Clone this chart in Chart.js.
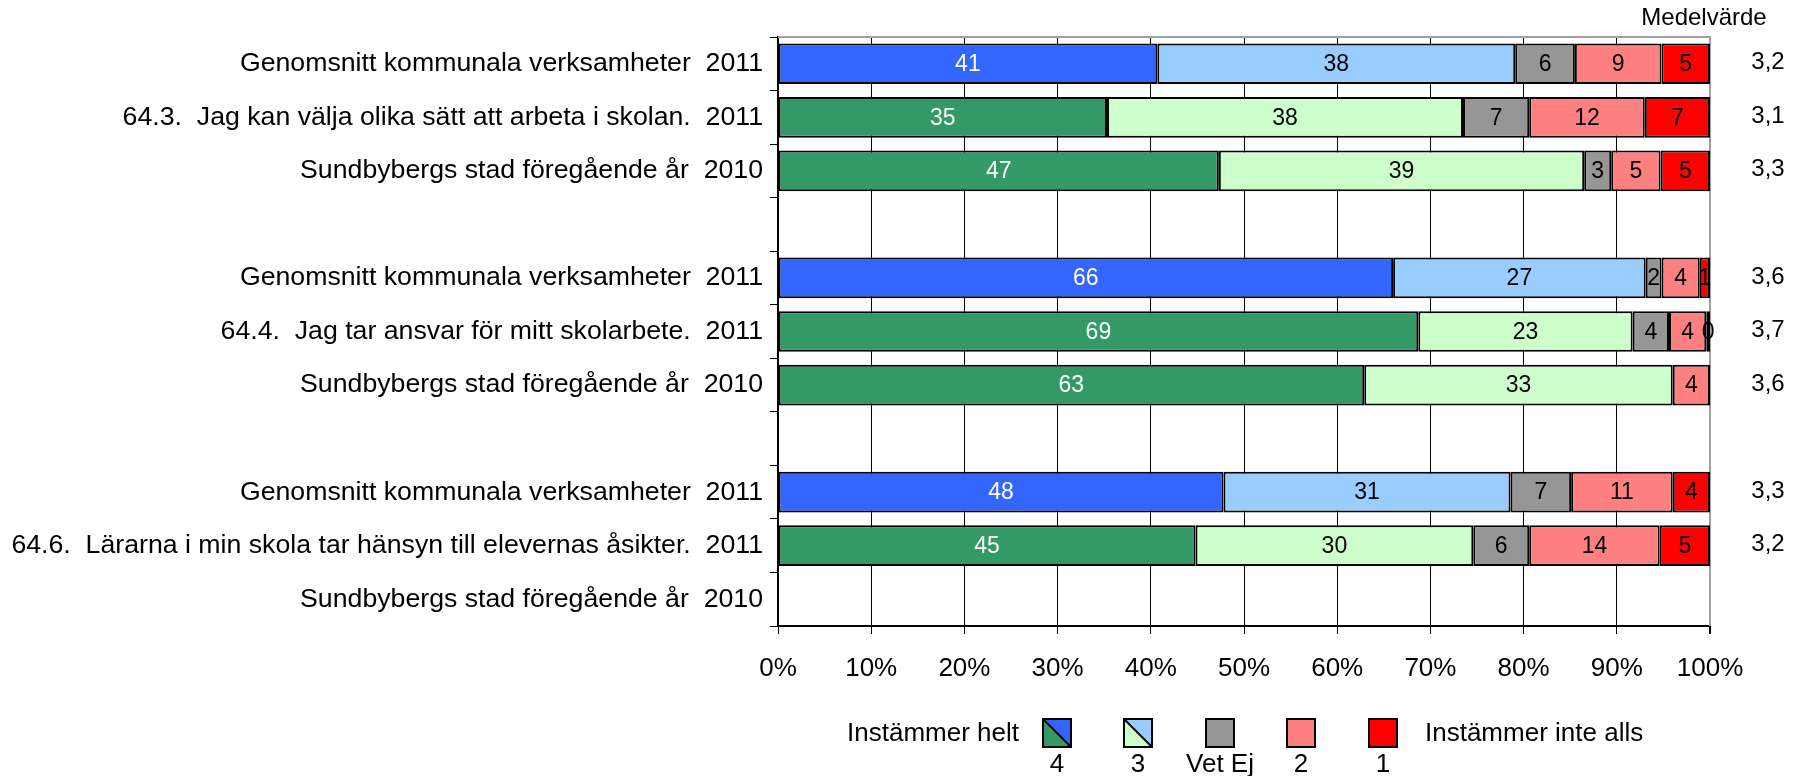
<!DOCTYPE html>
<html>
<head>
<meta charset="utf-8">
<script src="https://cdn.jsdelivr.net/npm/chart.js@4.4.0/dist/chart.umd.min.js"></script>
<style>
  body { margin: 0; background: #fff; }
  #wrap { width: 1806px; height: 776px; }
</style>
</head>
<body>
<div id="wrap"><canvas id="enkat" width="1806" height="776"></canvas></div>
<script>
// rader i diagrammet (tomma rader = mellanrum)
const labels = [
  'Genomsnitt kommunala verksamheter  2011',
  '64.3.  Jag kan välja olika sätt att arbeta i skolan.  2011',
  'Sundbybergs stad föregående år  2010',
  '',
  'Genomsnitt kommunala verksamheter  2011',
  '64.4.  Jag tar ansvar för mitt skolarbete.  2011',
  'Sundbybergs stad föregående år  2010',
  '',
  'Genomsnitt kommunala verksamheter  2011',
  '64.6.  Lärarna i min skola tar hänsyn till elevernas åsikter.  2011',
  'Sundbybergs stad föregående år  2010'
];

// andel (%) per svarsalternativ
const svar4    = [40.7, 35.3, 47.3, null, 66.0, 68.7, 62.9, null, 47.8, 44.8, null];
const svar3    = [38.4, 38.2, 39.2, null, 27.1, 23.0, 33.1, null, 30.8, 29.8, null];
const svarVetEj = [6.4, 7.1, 2.9, null, 1.7, 3.9, null, null, 6.5, 6.0, null];
const svar2    = [9.3, 12.4, 5.3, null, 4.1, 4.0, 4.0, null, 10.9, 14.0, null];
const svar1    = [5.2, 7.0, 5.3, null, 1.1, 0.4, null, null, 4.0, 5.4, null];

const medelvarde = [3.2, 3.1, 3.3, null, 3.6, 3.7, 3.6, null, 3.3, 3.2, null];

const xTicks = [0, 10, 20, 30, 40, 50, 60, 70, 80, 90, 100];

const FONT = '"Liberation Sans", Arial, sans-serif';

function isAvg(i) { return labels[i].startsWith('Genomsnitt'); }

// siffror i staplarna
const barLabels = {
  id: 'barLabels',
  afterDatasetsDraw(chart) {
    const ctx = chart.ctx;
    ctx.save();
    ctx.font = '23px ' + FONT;
    ctx.textAlign = 'center';
    ctx.textBaseline = 'middle';
    chart.data.datasets.forEach((ds, di) => {
      chart.getDatasetMeta(di).data.forEach((bar, i) => {
        const v = ds.data[i];
        if (v === null || v === undefined) return;
        const p = bar.getProps(['x', 'y', 'base'], true);
        ctx.fillStyle = di === 0 ? '#fff' : '#000';
        ctx.fillText(Math.round(v), (p.x + p.base) / 2, p.y + 1);
      });
    });
    ctx.restore();
  }
};

// ram, medelvärde och förklaring
const extras = {
  id: 'extras',
  beforeDatasetsDraw(chart) {
    const a = chart.chartArea, ctx = chart.ctx;
    ctx.save();
    ctx.strokeStyle = '#a0a0a0';
    ctx.lineWidth = 2;
    ctx.beginPath();
    ctx.moveTo(a.left, a.top);
    ctx.lineTo(a.right, a.top);
    ctx.lineTo(a.right, a.bottom);
    ctx.stroke();
    ctx.restore();
  },
  afterDraw(chart) {
    const ctx = chart.ctx;
    const y = chart.scales.y;
    ctx.save();
    ctx.fillStyle = '#000';
    ctx.textBaseline = 'middle';
    ctx.textAlign = 'center';
    ctx.font = '24px ' + FONT;
    ctx.fillText('Medelvärde', 1704, 18);
    medelvarde.forEach((m, i) => {
      if (m === null) return;
      ctx.fillText(m.toFixed(1).replace('.', ','), 1768, y.getPixelForValue(i) - 1);
    });

    // förklaring
    ctx.font = '26px ' + FONT;
    ctx.textAlign = 'right';
    ctx.fillText('Instämmer helt', 1019, 734);
    ctx.textAlign = 'left';
    ctx.fillText('Instämmer inte alls', 1425, 734);

    const items = [
      { text: '4', a: '#3366ff', b: '#339966' },
      { text: '3', a: '#99ccff', b: '#ccffcc' },
      { text: 'Vet Ej', a: '#969696' },
      { text: '2', a: '#ff8080' },
      { text: '1', a: '#ff0000' }
    ];
    const bx = [1043, 1124, 1206, 1287, 1369];
    const by = 719, bs = 28;
    items.forEach((it, k) => {
      const x = bx[k];
      ctx.fillStyle = it.a;
      ctx.fillRect(x, by, bs, bs);
      if (it.b) {
        ctx.fillStyle = it.b;
        ctx.beginPath();
        ctx.moveTo(x, by);
        ctx.lineTo(x + bs, by + bs);
        ctx.lineTo(x, by + bs);
        ctx.closePath();
        ctx.fill();
        ctx.strokeStyle = '#000';
        ctx.lineWidth = 2;
        ctx.beginPath();
        ctx.moveTo(x, by);
        ctx.lineTo(x + bs, by + bs);
        ctx.stroke();
      }
      ctx.strokeStyle = '#000';
      ctx.lineWidth = 2;
      ctx.strokeRect(x, by, bs, bs);
      ctx.fillStyle = '#000';
      ctx.textAlign = 'center';
      ctx.fillText(it.text, x + bs / 2, 765);
    });
    ctx.restore();
  }
};

const ctx = document.getElementById('enkat').getContext('2d');
const myChart = new Chart(ctx, {
  type: 'bar',
  data: {
    labels: labels,
    datasets: [
      { label: '4', data: svar4,
        backgroundColor: c => isAvg(c.dataIndex) ? '#3366ff' : '#339966' },
      { label: '3', data: svar3,
        backgroundColor: c => isAvg(c.dataIndex) ? '#99ccff' : '#ccffcc' },
      { label: 'Vet Ej', data: svarVetEj, backgroundColor: '#969696' },
      { label: '2', data: svar2, backgroundColor: '#ff8080' },
      { label: '1', data: svar1, backgroundColor: '#ff0000' }
    ].map(ds => Object.assign(ds, {
      borderColor: '#000',
      borderWidth: 2,
      borderSkipped: false,
      categoryPercentage: 1,
      barPercentage: 0.76
    }))
  },
  options: {
    indexAxis: 'y',
    responsive: false,
    animation: false,
    devicePixelRatio: 1,
    layout: { padding: { left: 0, right: 96, top: 37, bottom: 0 } },
    plugins: {
      legend: { display: false },
      tooltip: { enabled: false }
    },
    scales: {
      x: {
        stacked: true,
        min: 0,
        max: 100,
        afterBuildTicks: s => { s.ticks = xTicks.map(v => ({ value: v })); },
        afterFit: s => { s.height = 150; },
        grid: {
          color: c => (c.tick && c.tick.value === 100) ? '#a0a0a0' : '#000',
          lineWidth: c => (c.tick && c.tick.value === 100) ? 2 : 1,
          tickColor: '#000',
          tickLength: 8
        },
        border: { color: '#000', width: 2 },
        ticks: {
          color: '#000',
          padding: 19,
          maxRotation: 0,
          font: { family: FONT, size: 26 },
          callback: v => v + '%'
        }
      },
      y: {
        stacked: true,
        afterFit: s => { s.width = 778; },
        grid: {
          offset: true,
          drawOnChartArea: false,
          color: '#000',
          tickLength: 8
        },
        border: { color: '#000', width: 2 },
        ticks: {
          color: '#000',
          padding: 7,
          autoSkip: false,
          font: { family: FONT, size: 26.7 }
        }
      }
    }
  },
  plugins: [extras, barLabels]
});
</script>
</body>
</html>
